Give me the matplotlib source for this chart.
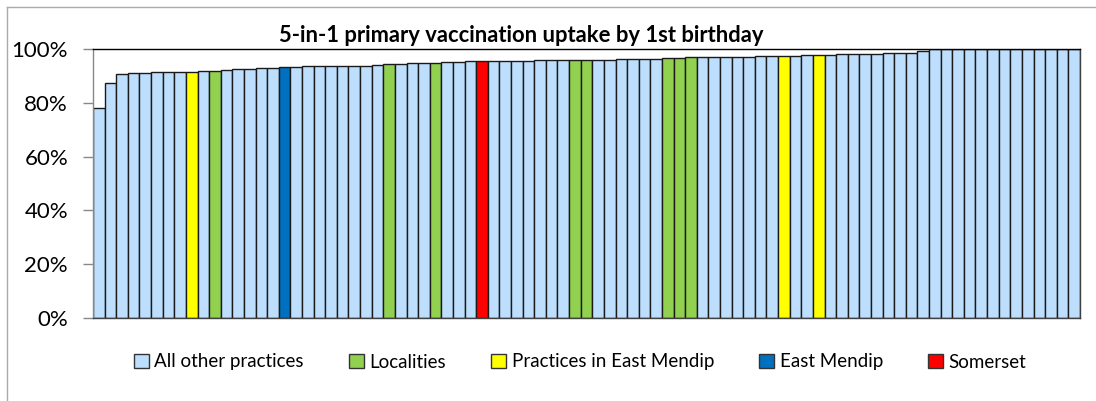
import matplotlib.pyplot as plt
from matplotlib.patches import Patch
from matplotlib.lines import Line2D

plt.rcParams['font.family'] = ['Lato', 'DejaVu Sans']

# Uptake (%) for each bar, sorted ascending
uptake = [
    78.1, 87.5, 90.8, 91.0, 91.2, 91.3, 91.4, 91.6, 91.6, 92.0,
    92.0, 92.3, 92.6, 92.6, 92.9, 92.9, 93.2, 93.2, 93.5, 93.5,
    93.5, 93.5, 93.6, 93.6, 93.9, 94.3, 94.3, 94.9, 94.9, 94.9,
    95.2, 95.2, 95.4, 95.4, 95.5, 95.5, 95.5, 95.6, 95.8, 95.8,
    95.8, 95.9, 95.9, 96.0, 96.0, 96.1, 96.1, 96.2, 96.2, 96.5,
    96.6, 96.9, 96.9, 96.9, 96.9, 96.9, 96.9, 97.4, 97.4, 97.4,
    97.5, 97.6, 97.6, 97.7, 98.0, 98.0, 98.1, 98.3, 98.4, 98.4,
    98.5, 99.1, 100, 100, 100, 100, 100, 100, 100, 100,
    100, 100, 100, 100, 100,
]

# Group of each bar: O = other practice, L = locality,
# P = practice in East Mendip, E = East Mendip, S = Somerset
groups = list(
    'OOOOOOOOPOLOOOOOEOOOOOOOOLOOOLOOOSOOOOOOOLLOOOOOOLLLOOOOOOOPOOPOOOOOOOOOOOOOOOOOOOOOO'
)

legend_labels = ['All other practices', 'Localities', 'Practices in East Mendip',
                 'East Mendip', 'Somerset']
group_keys = ['O', 'L', 'P', 'E', 'S']
colors = {'O': '#BDDFFD', 'L': '#92D050', 'P': '#FFFF00', 'E': '#0070C0', 'S': '#FF0000'}

fig = plt.figure(figsize=(10.96, 4.01), dpi=100)
ax = fig.add_axes([93 / 1096, 83 / 401, 987 / 1096, 269 / 401])

x = range(len(uptake))
ax.bar(x, [v / 100 for v in uptake], width=1.0,
       color=[colors[g] for g in groups], edgecolor='#1a1a1a', linewidth=1.0)

ax.set_xlim(-0.5, len(uptake) - 0.5)
ax.set_ylim(0, 1)
ax.set_yticks([0, 0.2, 0.4, 0.6, 0.8, 1.0])
ax.set_yticklabels(['0%', '20%', '40%', '60%', '80%', '100%'], fontsize=16)
ax.tick_params(axis='y', direction='out', length=7, width=1, color='#888888', pad=11)
ax.set_xticks([])

ax.spines['left'].set_color('#888888')
ax.spines['bottom'].set_color('#404040')
ax.spines['top'].set_color('black')
ax.spines['right'].set_color('#404040')
for s in ax.spines.values():
    s.set_linewidth(1.0)

fig.text(521 / 1096, 1 - 35 / 401, '5-in-1 primary vaccination uptake by 1st birthday',
         ha='center', va='center', fontsize=15.8, fontweight='bold')

handles = [Patch(facecolor=colors[k], edgecolor='#333333', linewidth=1.0) for k in group_keys]
fig.legend(handles, legend_labels, loc='center', bbox_to_anchor=(580 / 1096, 1 - 362 / 401),
           ncol=5, frameon=False, fontsize=13.5, handlelength=0.8, handleheight=0.8,
           handletextpad=0.3, columnspacing=2.4)

# chart area border
fig.add_artist(Line2D([7 / 1096, 7 / 1096], [0, 1 - 7 / 401], color='#aaaaaa', linewidth=1))
fig.add_artist(Line2D([7 / 1096, 1], [1 - 7 / 401, 1 - 7 / 401], color='#aaaaaa', linewidth=1))

fig.savefig('out.png', dpi=100)
